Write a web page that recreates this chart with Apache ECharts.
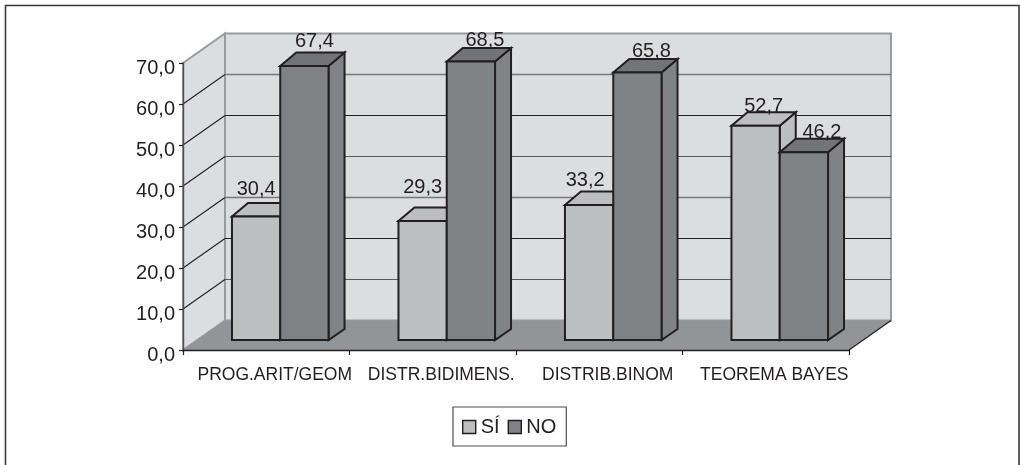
<!DOCTYPE html>
<html>
<head>
<meta charset="utf-8">
<style>html,body{margin:0;padding:0;background:#fff}#c{width:1020px;height:465px}</style>
<script src="https://cdn.jsdelivr.net/npm/echarts@6/dist/echarts.min.js"></script>
</head>
<body>
<div id="c"></div>
<script>
const categories = ['PROG.ARIT/GEOM', 'DISTR.BIDIMENS.', 'DISTRIB.BINOM', 'TEOREMA BAYES'];
const valuesSi = [30.4, 29.3, 33.2, 52.7];
const valuesNo = [67.4, 68.5, 65.8, 46.2];
const yTicks = [0, 10, 20, 30, 40, 50, 60, 70];

const INK = '#231f20';
const WALL = '#dcddde', FLOOR = '#929497', EDGE = '#9a9b9e';
const SI = '#bcbec0', NO = '#808285', NO_TOP = '#737477';
const FONT = '"Liberation Sans", Arial, sans-serif';

// Chart depth (projection of the 3D box)
const WALL_DX = 42, WALL_DY = -29.5;
const BAR_FRONT_DX = 14, BAR_FRONT_DY = -10;
const BAR_DX = 16, BAR_TOP_DY = -13.5, BAR_BASE_DY = -11;
// Data-label nudges [dx, dy] per series / category, as placed in the reference
const labelNudgeSi = [[-8, -4], [-8, -11], [-12, -2], [0, 3]];
const labelNudgeNo = [[2, -2], [6, 1], [6, 1], [10, 3]];
// Back-wall gridline rendering varies in the scan
const gridStyle = {
  10: ['#58595b', 1.2], 20: [INK, 1], 30: ['#77787b', 1.6],
  40: ['#58595b', 1.2], 50: [INK, 1], 60: ['#77787b', 1.6]
};

function fmt(v) { return v.toFixed(1).replace('.', ','); }

function renderWalls(params, api) {
  const r = params.coordSys;
  const v = api.value(0);
  const y = api.coord([0, v])[1];
  const l = r.x, rgt = r.x + r.width;
  const children = [];
  if (params.dataIndex === 0) {
    const top = r.y, bot = r.y + r.height;
    children.push(
      { type: 'polygon', shape: { points: [[l + WALL_DX, top + WALL_DY], [rgt + WALL_DX, top + WALL_DY], [rgt + WALL_DX, bot + WALL_DY], [l + WALL_DX, bot + WALL_DY]] }, style: { fill: WALL, stroke: EDGE, lineWidth: 2 } },
      { type: 'polygon', shape: { points: [[l, bot], [l + WALL_DX, bot + WALL_DY], [l + WALL_DX, top + WALL_DY], [l, top]] }, style: { fill: WALL, stroke: EDGE, lineWidth: 2 } },
      { type: 'polygon', shape: { points: [[l, bot], [rgt, bot], [rgt + WALL_DX, bot + WALL_DY], [l + WALL_DX, bot + WALL_DY]] }, style: { fill: FLOOR } },
      { type: 'line', shape: { x1: rgt, y1: bot, x2: rgt + WALL_DX, y2: bot + WALL_DY }, style: { stroke: INK, lineWidth: 1.2 } }
    );
  } else if (v < 70) {
    const g = gridStyle[v];
    children.push(
      { type: 'line', shape: { x1: l, y1: y, x2: l + WALL_DX, y2: y + WALL_DY }, style: { stroke: INK, lineWidth: 1.1 } },
      { type: 'line', shape: { x1: l + WALL_DX, y1: y + WALL_DY, x2: rgt + WALL_DX, y2: y + WALL_DY }, style: { stroke: g[0], lineWidth: g[1] } }
    );
  }
  return { type: 'group', children };
}

function barRenderer(side, front, top, nudges) {
  return function (params, api) {
    const i = api.value(0), v = api.value(1);
    const c0 = api.coord([i, 0]);
    const c1 = api.coord([i, v]);
    const band = api.size([1, 0])[0];
    const w = band * 0.29;
    const mid = c0[0] + BAR_FRONT_DX;
    const x0 = side === 0 ? mid - w : mid, x1 = x0 + w;
    const yb = c0[1] + BAR_FRONT_DY, yt = c1[1] + BAR_FRONT_DY;
    const st = { stroke: INK, lineWidth: 2, lineJoin: 'miter' };
    const n = nudges[i];
    return {
      type: 'group',
      children: [
        { type: 'polygon', shape: { points: [[x1, yt], [x1 + BAR_DX, yt + BAR_TOP_DY], [x1 + BAR_DX, yb + BAR_BASE_DY], [x1, yb]] }, style: { fill: front, ...st } },
        { type: 'polygon', shape: { points: [[x0, yt], [x0 + BAR_DX, yt + BAR_TOP_DY], [x1 + BAR_DX, yt + BAR_TOP_DY], [x1, yt]] }, style: { fill: top, ...st } },
        { type: 'rect', shape: { x: x0, y: yt, width: w, height: yb - yt }, style: { fill: front, ...st } },
        { type: 'text', style: { text: fmt(v), x: (x0 + x1) / 2 + BAR_DX / 2 + n[0], y: yt + BAR_TOP_DY + n[1] + 1, align: 'center', verticalAlign: 'bottom', fill: INK, font: '20px ' + FONT }, z2: 5 }
      ]
    };
  };
}

const chart = echarts.init(document.getElementById('c'), null, { renderer: 'canvas', width: 1020, height: 465 });
chart.setOption({
  animation: false,
  backgroundColor: '#fff',
  textStyle: { fontFamily: FONT },
  graphic: [{
    type: 'rect', silent: true, z: 100,
    shape: { x: 5.5, y: 5.5, width: 1013.5, height: 480 },
    style: { fill: 'none', stroke: '#3a3a3c', lineWidth: 1.6 }
  }],
  grid: { left: 183, top: 63, width: 666, height: 287, containLabel: false },
  xAxis: {
    type: 'category', data: categories, boundaryGap: true, z: 4,
    axisLine: { lineStyle: { color: INK, width: 1.4 } },
    axisTick: { show: true, length: 5, lineStyle: { color: INK, width: 1.2 } },
    splitLine: { show: false },
    axisLabel: { color: INK, fontSize: 17.5, fontFamily: FONT, margin: 16, padding: [0, 0, 0, 17], interval: 0 }
  },
  yAxis: [{
    type: 'value', min: 0, max: 70, interval: 10, z: 4,
    axisLine: { show: true, lineStyle: { color: '#4d4d4f', width: 1.4 } },
    axisTick: { show: true, length: 4, lineStyle: { color: INK, width: 1.2 } },
    splitLine: { show: false },
    axisLabel: { color: INK, fontSize: 20, fontFamily: FONT, margin: 8, verticalAlign: 'top', lineHeight: 10, formatter: fmt }
  }, {
    // bars sit on a slightly flatter value scale than the wall, as in the reference
    type: 'value', min: 0, max: 70.6, show: false, splitLine: { show: false }
  }],
  legend: {
    show: true, left: 453, top: 407, orient: 'horizontal',
    data: [
      { name: 'SÍ', icon: 'rect', itemStyle: { color: SI, borderColor: INK, borderWidth: 1.4 } },
      { name: 'NO', icon: 'rect', itemStyle: { color: NO, borderColor: INK, borderWidth: 1.4 } }
    ],
    itemWidth: 13, itemHeight: 13, itemGap: 8,
    padding: [10, 10, 9, 9],
    backgroundColor: '#fff', borderColor: '#4d4d4f', borderWidth: 1.2, borderRadius: 0,
    textStyle: { color: INK, fontSize: 20, fontFamily: FONT }
  },
  series: [
    { type: 'custom', name: 'pared', z: 1, silent: true, coordinateSystem: 'cartesian2d', yAxisIndex: 0,
      data: yTicks.map(t => [t]), encode: { y: 0 }, renderItem: renderWalls, tooltip: { show: false } },
    { type: 'custom', name: 'SÍ', z: 2, coordinateSystem: 'cartesian2d', yAxisIndex: 1, itemStyle: { color: SI },
      data: valuesSi.map((v, i) => [i, v]), encode: { x: 0, y: 1 }, renderItem: barRenderer(0, SI, SI, labelNudgeSi) },
    { type: 'custom', name: 'NO', z: 3, coordinateSystem: 'cartesian2d', yAxisIndex: 1, itemStyle: { color: NO },
      data: valuesNo.map((v, i) => [i, v]), encode: { x: 0, y: 1 }, renderItem: barRenderer(1, NO, NO_TOP, labelNudgeNo) }
  ]
});
</script>
</body>
</html>
